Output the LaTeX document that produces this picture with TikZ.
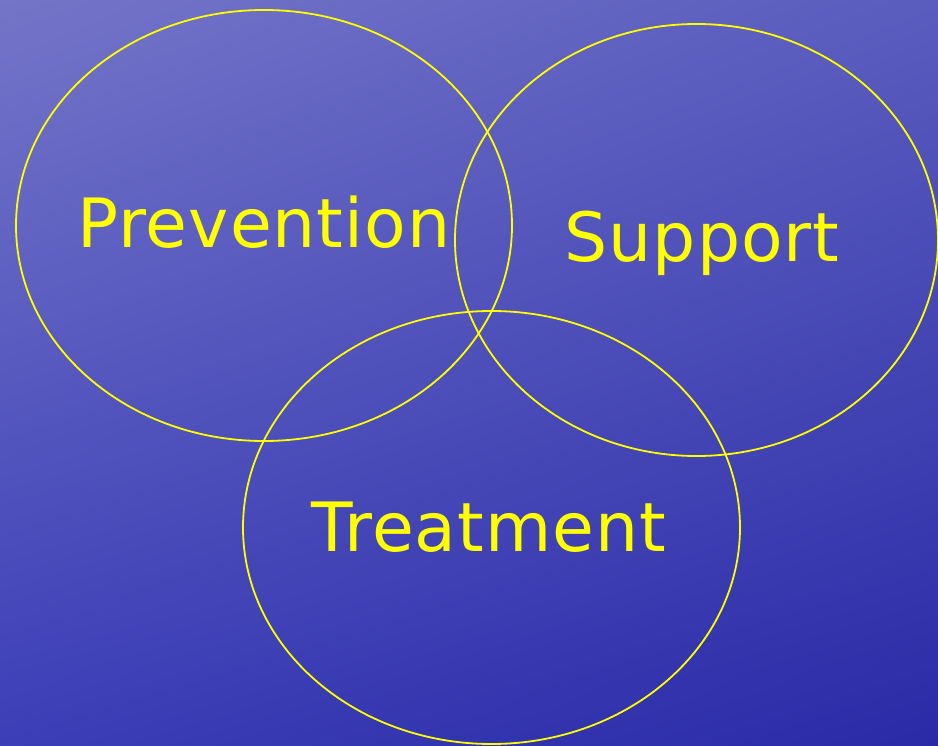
\documentclass[tikz,border=0pt]{standalone}
\usepackage{fontspec}
\setmainfont{DejaVu Sans}[LetterSpace=1.5]
\usetikzlibrary{shapes.geometric,shadings}

\definecolor{bgUL}{HTML}{7475C8}
\definecolor{bgUR}{HTML}{5A5CBE}
\definecolor{bgLL}{HTML}{3B3EB7}
\definecolor{bgLR}{HTML}{2A2AA7}
\definecolor{ringyellow}{HTML}{FFFF00}

\tikzset{
  ring/.style={draw=ringyellow, line width=1.8pt, ellipse, inner sep=0pt},
  word/.style={text=ringyellow, font=\fontsize{68}{80}\selectfont, anchor=base, inner sep=0pt},
}

\begin{document}
\begin{tikzpicture}[x=1pt, y=-1pt]
  % canvas and water-blue backdrop
  \useasboundingbox (0,0) rectangle (938,746);
  \shade[upper left=bgUL, upper right=bgUR, lower left=bgLL, lower right=bgLR]
    (0,0) rectangle (938,746);

  % the three overlapping circles
  \node[ring, minimum width=496pt, minimum height=431pt] (prev) at (264,225.5) {};
  \node[ring, minimum width=483pt, minimum height=432pt] (supp) at (696.5,240) {};
  \node[ring, minimum width=497pt, minimum height=433pt] (treat) at (491.5,527.5) {};

  % labels
  \node[word] (prevlabel)  at (264,248) {Prevention};
  \node[word] (supplabel)  at (702,262) {Support};
  \node[word] (treatlabel) at (489,551) {Treatment};
\end{tikzpicture}
\end{document}
